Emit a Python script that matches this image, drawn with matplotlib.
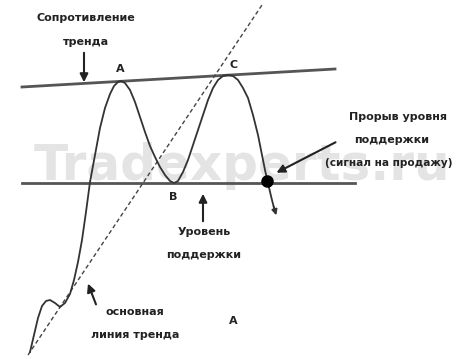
import matplotlib.pyplot as plt

# кривая цены (координаты в пикселях исходной картинки, ось y вниз)
curve_x = [30, 34, 38, 42, 46, 50, 55, 60, 65, 70, 74, 78, 82, 86, 90, 95, 100, 105, 110, 114, 118, 121,
           125, 130, 135, 140, 145, 150, 155, 160, 165, 170, 174, 178, 183, 188, 193, 198, 203, 208, 213,
           218, 223, 228, 233, 238, 243, 248, 253, 258, 262, 265, 268, 271, 274]
curve_y = [352, 335, 318, 306, 301, 300, 303, 307, 303, 294, 280, 262, 240, 212, 182, 155, 128, 108, 94, 86, 82, 81,
           83, 90, 102, 117, 132, 146, 157, 167, 175, 181, 183, 181, 172, 160, 145, 130, 115, 100, 88,
           80, 76, 75, 76, 80, 88, 98, 115, 135, 155, 170, 183, 196, 208]

resist_x = [22, 335]
resist_y = [87, 69]
support_x = [22, 355]
support_y = [183, 183]
trend_x = [28, 262]
trend_y = [355, 5]
breakout_x = [267]
breakout_y = [181]

font = ['DejaVu Sans']
ink = '#222222'

fig = plt.figure(figsize=(4.62, 3.59), dpi=100)
ax = fig.add_axes([0, 0, 1, 1])
ax.set_xlim(0, 462)
ax.set_ylim(359, 0)
ax.axis('off')

# водяной знак (размытый в оригинале)
ax.text(242, 166, 'Tradexperts.ru', fontsize=36, fontweight='bold', family=font,
        color='#e4e4e4', ha='center', va='center', zorder=0)

ax.plot(resist_x, resist_y, color='#555555', lw=2, zorder=2)
ax.plot(support_x, support_y, color='#555555', lw=2, zorder=2)
ax.plot(trend_x, trend_y, color='#444444', lw=1, ls=(0, (3, 2)), zorder=2)
ax.plot(curve_x, curve_y, color='#333333', lw=1.3, zorder=3)
ax.plot(breakout_x, breakout_y, 'o', color='black', ms=8, zorder=4)
ax.annotate('', xy=(277, 218), xytext=(273, 204),
            arrowprops=dict(arrowstyle='-|>', color='#333333', lw=1.3, mutation_scale=8))

def label(x, y, s, size=8):
    ax.text(x, y, s, fontsize=size, fontweight='bold', family=font, color=ink,
            ha='center', va='center', zorder=5)

label(86, 18, 'Сопротивление')
label(86, 42, 'тренда')
label(120, 69, 'A')
label(234, 65, 'C')
label(173, 197, 'B')
label(398, 117, 'Прорыв уровня')
label(392, 140, 'поддержки')
label(389, 163, '(сигнал на продажу)', size=7.6)
label(204, 232, 'Уровень')
label(204, 255, 'поддержки')
label(135, 312, 'основная')
label(135, 335, 'линия тренда')
label(233, 321, 'A')

arrow = dict(arrowstyle='-|>', color=ink, lw=1.5, mutation_scale=12)
ax.annotate('', xy=(84, 85), xytext=(84, 50), arrowprops=arrow)
ax.annotate('', xy=(203, 191), xytext=(203, 224), arrowprops=arrow)
ax.annotate('', xy=(87, 281), xytext=(97, 307), arrowprops=arrow)
ax.annotate('', xy=(274, 174), xytext=(338, 141), arrowprops=arrow)

fig.savefig('out.png', dpi=100, facecolor='white')
